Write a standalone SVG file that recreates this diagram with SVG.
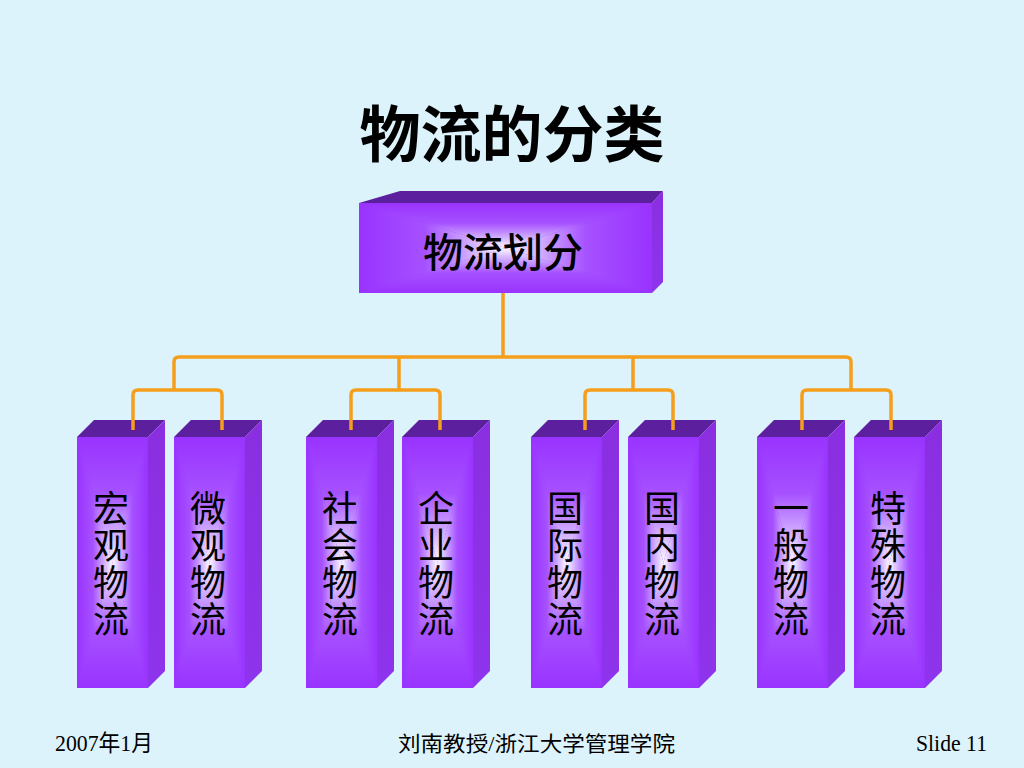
<svg xmlns="http://www.w3.org/2000/svg" xmlns:xlink="http://www.w3.org/1999/xlink" width="1024" height="768" viewBox="0 0 1024 768">
  <style>
    .cjk { font-family: "Noto Sans CJK SC", "Noto Sans", sans-serif; fill: #000; }
    .vt { font-family: "Noto Sans CJK SC", "Noto Sans", sans-serif; fill: #000; font-size: 36px; writing-mode: vertical-rl; letter-spacing: 1px; }
    .foot { font-family: "Liberation Serif", "Noto Sans CJK SC", serif; fill: #000; }
    .conn { fill: none; stroke: #F59E1B; stroke-width: 3.5; stroke-linejoin: round; stroke-linecap: butt; }
    .topface { fill: #5C1F9E; }
    .sideface { fill: url(#gSide); }
    .base { fill: #9933FF; }
  </style>
  <defs>
    <linearGradient id="gT" x1="0" y1="0" x2="0" y2="1">
      <stop offset="0" stop-color="#9933FF"/>
      <stop offset="0.45" stop-color="#A651FF"/>
      <stop offset="0.75" stop-color="#CFAAFF"/>
      <stop offset="1" stop-color="#FCF9FF"/>
    </linearGradient>
    <linearGradient id="gB" x1="0" y1="1" x2="0" y2="0">
      <stop offset="0" stop-color="#9933FF"/>
      <stop offset="0.45" stop-color="#A651FF"/>
      <stop offset="0.75" stop-color="#CFAAFF"/>
      <stop offset="1" stop-color="#FCF9FF"/>
    </linearGradient>
    <linearGradient id="gL" x1="0" y1="0" x2="1" y2="0">
      <stop offset="0" stop-color="#9933FF"/>
      <stop offset="0.45" stop-color="#A651FF"/>
      <stop offset="0.75" stop-color="#CFAAFF"/>
      <stop offset="1" stop-color="#FCF9FF"/>
    </linearGradient>
    <linearGradient id="gR" x1="1" y1="0" x2="0" y2="0">
      <stop offset="0" stop-color="#9933FF"/>
      <stop offset="0.45" stop-color="#A651FF"/>
      <stop offset="0.75" stop-color="#CFAAFF"/>
      <stop offset="1" stop-color="#FCF9FF"/>
    </linearGradient>
    <linearGradient id="gSide" x1="0" y1="0" x2="0" y2="1">
      <stop offset="0" stop-color="#8A2EE0"/>
      <stop offset="1" stop-color="#8E34EC"/>
    </linearGradient>
    <g id="column">
      <polygon class="topface" points="0,437 17,420 88,420 71,437"/>
      <polygon class="sideface" points="71,437 88,420 88,671 71,688"/>
      <rect class="base" x="0" y="437" width="71" height="251"/>
      <polygon fill="url(#gT)" points="0,437 71,437 35.5,562.5"/>
      <polygon fill="url(#gB)" points="0,688 71,688 35.5,562.5"/>
      <polygon fill="url(#gL)" points="0,437 0,688 35.5,562.5"/>
      <polygon fill="url(#gR)" points="71,437 71,688 35.5,562.5"/>
    </g>
  </defs>

  <rect x="0" y="0" width="1024" height="768" fill="#DDF3FB"/>

  <text class="cjk" x="512" y="157" font-size="61" font-weight="700" text-anchor="middle">物流的分类</text>

  <g id="root">
    <polygon class="topface" points="359,203 400,191 663,191 652,203"/>
    <polygon class="sideface" points="652,203 663,191 663,282 652,293"/>
    <rect class="base" x="359" y="203" width="293" height="90"/>
    <polygon fill="url(#gT)" points="359,203 652,203 505.5,248"/>
    <polygon fill="url(#gB)" points="359,293 652,293 505.5,248"/>
    <polygon fill="url(#gL)" points="359,203 359,293 505.5,248"/>
    <polygon fill="url(#gR)" points="652,203 652,293 505.5,248"/>
    <text class="cjk" x="503" y="267" font-size="40" font-weight="500" text-anchor="middle">物流划分</text>
  </g>

  <g id="n1">
    <use xlink:href="#column" href="#column" x="77"/>
    <text class="vt" x="111" y="490">宏观物流</text>
  </g>
  <g id="n2">
    <use xlink:href="#column" href="#column" x="174"/>
    <text class="vt" x="208" y="490">微观物流</text>
  </g>
  <g id="n3">
    <use xlink:href="#column" href="#column" x="306"/>
    <text class="vt" x="340" y="490">社会物流</text>
  </g>
  <g id="n4">
    <use xlink:href="#column" href="#column" x="402"/>
    <text class="vt" x="436" y="490">企业物流</text>
  </g>
  <g id="n5">
    <use xlink:href="#column" href="#column" x="531"/>
    <text class="vt" x="565" y="490">国际物流</text>
  </g>
  <g id="n6">
    <use xlink:href="#column" href="#column" x="628"/>
    <text class="vt" x="662" y="490">国内物流</text>
  </g>
  <g id="n7">
    <use xlink:href="#column" href="#column" x="757"/>
    <text class="vt" x="791" y="490">一般物流</text>
  </g>
  <g id="n8">
    <use xlink:href="#column" href="#column" x="854"/>
    <text class="vt" x="888" y="490">特殊物流</text>
  </g>

  <g id="connectors">
    <path class="conn" d="M503,293 V357"/>
    <path class="conn" d="M174,390 V362 Q174,357 179,357 H846 Q851,357 851,362 V390"/>
    <path class="conn" d="M399,357 V390"/>
    <path class="conn" d="M633,357 V390"/>
    <path class="conn" d="M133,430 V395 Q133,390 138,390 H217 Q222,390 222,395 V430"/>
    <path class="conn" d="M351,430 V395 Q351,390 356,390 H435 Q440,390 440,395 V430"/>
    <path class="conn" d="M585,430 V395 Q585,390 590,390 H668 Q673,390 673,395 V430"/>
    <path class="conn" d="M802,430 V395 Q802,390 807,390 H886 Q891,390 891,395 V430"/>
  </g>

  <text class="foot" x="55" y="751" font-size="23" textLength="98" lengthAdjust="spacingAndGlyphs">2007年1月</text>
  <text class="foot" x="398" y="751" font-size="21" textLength="277" lengthAdjust="spacingAndGlyphs">刘南教授/浙江大学管理学院</text>
  <text class="foot" x="916" y="751" font-size="24" textLength="71" lengthAdjust="spacingAndGlyphs">Slide 11</text>
</svg>
